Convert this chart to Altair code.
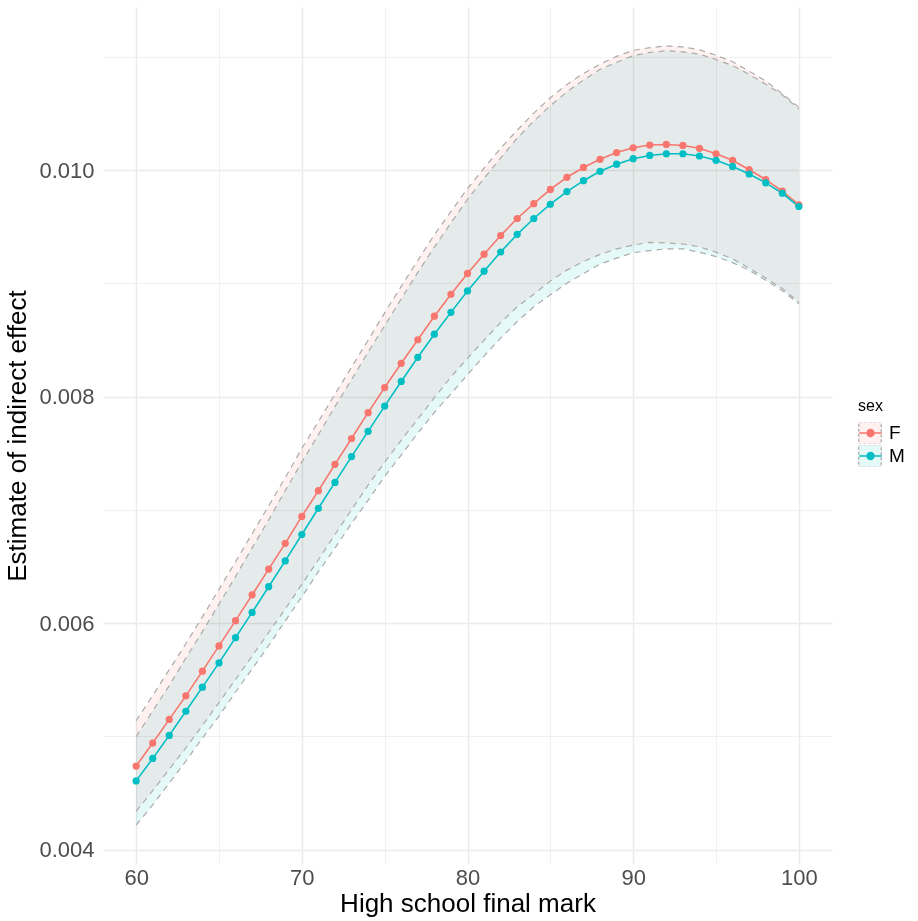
import altair as alt
import pandas as pd

# ---------------- data ----------------
marks = list(range(60, 101))

f_est = [0.004737, 0.004940, 0.005149, 0.005357, 0.005575, 0.005798, 0.006021, 0.006249, 0.006476, 0.006704,
         0.006942, 0.007169, 0.007402, 0.007630, 0.007858, 0.008080, 0.008294, 0.008502, 0.008710, 0.008904,
         0.009088, 0.009258, 0.009423, 0.009573, 0.009704, 0.009830, 0.009937, 0.010024, 0.010096, 0.010155,
         0.010198, 0.010222, 0.010227, 0.010218, 0.010193, 0.010145, 0.010087, 0.010004, 0.009917, 0.009815,
         0.009694]
f_hi = [0.005137, 0.005360, 0.005589, 0.005817, 0.006055, 0.006298, 0.006541, 0.006789, 0.007036, 0.007284,
        0.007542, 0.007779, 0.008022, 0.008260, 0.008498, 0.008740, 0.008974, 0.009202, 0.009430, 0.009634,
        0.009838, 0.010018, 0.010193, 0.010353, 0.010504, 0.010640, 0.010757, 0.010854, 0.010936, 0.011005,
        0.011058, 0.011082, 0.011097, 0.011088, 0.011063, 0.011015, 0.010957, 0.010874, 0.010787, 0.010675,
        0.010554]
f_lo = [0.004337, 0.004520, 0.004709, 0.004897, 0.005095, 0.005298, 0.005501, 0.005709, 0.005916, 0.006124,
        0.006342, 0.006559, 0.006782, 0.007000, 0.007218, 0.007420, 0.007614, 0.007802, 0.007990, 0.008174,
        0.008338, 0.008498, 0.008653, 0.008793, 0.008904, 0.009020, 0.009117, 0.009194, 0.009256, 0.009305,
        0.009338, 0.009362, 0.009357, 0.009348, 0.009323, 0.009275, 0.009217, 0.009134, 0.009047, 0.008955,
        0.008834]

m_est = [0.004606, 0.004804, 0.005008, 0.005221, 0.005434, 0.005648, 0.005871, 0.006094, 0.006321, 0.006549,
         0.006782, 0.007014, 0.007242, 0.007470, 0.007693, 0.007916, 0.008134, 0.008347, 0.008551, 0.008744,
         0.008933, 0.009108, 0.009277, 0.009433, 0.009573, 0.009699, 0.009811, 0.009907, 0.009990, 0.010053,
         0.010101, 0.010130, 0.010145, 0.010145, 0.010125, 0.010087, 0.010033, 0.009966, 0.009888, 0.009796,
         0.009679]
m_hi = [0.004996, 0.005224, 0.005448, 0.005691, 0.005924, 0.006168, 0.006411, 0.006664, 0.006911, 0.007169,
        0.007422, 0.007664, 0.007912, 0.008150, 0.008393, 0.008626, 0.008864, 0.009097, 0.009321, 0.009534,
        0.009743, 0.009928, 0.010107, 0.010283, 0.010433, 0.010569, 0.010691, 0.010797, 0.010890, 0.010953,
        0.011011, 0.011040, 0.011055, 0.011045, 0.011025, 0.010977, 0.010923, 0.010846, 0.010758, 0.010666,
        0.010539]
m_lo = [0.004216, 0.004394, 0.004588, 0.004781, 0.004984, 0.005178, 0.005391, 0.005594, 0.005801, 0.006019,
        0.006232, 0.006454, 0.006662, 0.006880, 0.007083, 0.007296, 0.007484, 0.007677, 0.007861, 0.008024,
        0.008193, 0.008358, 0.008517, 0.008663, 0.008793, 0.008899, 0.009001, 0.009087, 0.009170, 0.009223,
        0.009271, 0.009290, 0.009305, 0.009305, 0.009275, 0.009237, 0.009183, 0.009116, 0.009028, 0.008936,
        0.008819]

sexes = ["F", "M"]
x_ticks = [60, 65, 70, 75, 80, 85, 90, 95, 100]
y_ticks = [0.004, 0.005, 0.006, 0.007, 0.008, 0.009, 0.010, 0.011]

# ---------------- tables ----------------
rows = []
for sex, est, lo, hi in [("F", f_est, f_lo, f_hi), ("M", m_est, m_lo, m_hi)]:
    for x, e, l, h in zip(marks, est, lo, hi):
        rows.append({"mark": x, "sex": sex, "est": e, "lo": l, "hi": h})
df = pd.DataFrame(rows)
bounds = df.melt(id_vars=["mark", "sex"], value_vars=["lo", "hi"],
                 var_name="bound", value_name="val")

FONT = "Liberation Sans"
RED, TEAL = "#F8766D", "#00BFC4"
PALE_RED, PALE_TEAL = "#FEF1F0", "#E6F9F9"

xscale = alt.Scale(domain=[58, 102], nice=False, zero=False)
yscale = alt.Scale(domain=[0.003872, 0.011441], nice=False, zero=False)

LEG_X, LEG_Y = 755, 391
leg_common = dict(orient="none", legendX=LEG_X, legendY=LEG_Y, title="sex",
                  titleFont=FONT, titleFontSize=16, titleFontWeight="normal", titleColor="#000000",
                  titlePadding=8, labelFont=FONT, labelFontSize=19, labelColor="#000000",
                  symbolSize=506, labelOffset=7, rowPadding=1, padding=0, clipHeight=22)

xaxis = alt.Axis(values=x_ticks, title="High school final mark",
                 labelExpr="datum.value % 10 == 0 ? datum.label : ''",
                 gridWidth={"condition": {"test": "datum.value % 10 == 0", "value": 1.4}, "value": 0.7},
                 gridColor="#EBEBEB", ticks=False, domain=False,
                 labelFont=FONT, labelFontSize=22, labelColor="#4D4D4D", labelPadding=3,
                 titleFont=FONT, titleFontSize=26, titleFontWeight="normal", titleColor="#000000",
                 titlePadding=2)
yaxis = alt.Axis(values=y_ticks, title="Estimate of indirect effect",
                 labelExpr="round(datum.value * 1000) % 2 == 0 ? format(datum.value, '.3f') : ''",
                 gridWidth={"condition": {"test": "round(datum.value * 1000) % 2 == 0", "value": 1.4}, "value": 0.7},
                 gridColor="#EBEBEB", ticks=False, domain=False,
                 labelFont=FONT, labelFontSize=22, labelColor="#4D4D4D", labelPadding=9,
                 titleFont=FONT, titleFontSize=26, titleFontWeight="normal", titleColor="#000000",
                 titlePadding=8)

X = alt.X("mark:Q", scale=xscale, axis=xaxis)

ribbon = alt.Chart(df).mark_area(blend="multiply").encode(
    x=X,
    y=alt.Y("lo:Q", scale=yscale, axis=yaxis),
    y2="hi:Q",
    color=alt.Color("sex:N", scale=alt.Scale(domain=sexes, range=[PALE_RED, PALE_TEAL]),
                    legend=alt.Legend(symbolType="square", symbolStrokeColor="#A5A5A5",
                                      symbolDash=[3, 2], symbolStrokeWidth=1.2, **leg_common)),
)

edges = alt.Chart(bounds).mark_line(strokeDash=[6, 5], color="#ABABAB", strokeWidth=1.2).encode(
    x=X,
    y=alt.Y("val:Q", scale=yscale),
    detail=["sex:N", "bound:N"],
)

dot_path = ("M-1,0L1,0"
            "M-0.3,0A0.3,0.3,0,1,1,0.3,0A0.3,0.3,0,1,1,-0.3,0Z")

line_leg = dict(leg_common)
line_leg.update(labelOpacity=0, titleOpacity=0)

lines = alt.Chart(df).mark_line(strokeWidth=1.6).encode(
    x=X,
    y=alt.Y("est:Q", scale=yscale),
    stroke=alt.Stroke("sex:N", scale=alt.Scale(range=[RED, TEAL]),
                      legend=alt.Legend(symbolType=dot_path, symbolStrokeWidth=1.6, **line_leg)),
)

points = alt.Chart(df).mark_point(filled=True, size=52, opacity=1).encode(
    x=X,
    y=alt.Y("est:Q", scale=yscale),
    fill=alt.Fill("sex:N", scale=alt.Scale(range=[RED, TEAL]),
                  legend=alt.Legend(symbolType=dot_path, symbolStrokeWidth=1.6, **line_leg)),
)

chart = alt.layer(ribbon, edges, lines, points).properties(
    width=729, height=857,
    autosize=alt.AutoSizeParams(type="none"),
    padding={"left": 103, "top": 7, "right": 86, "bottom": 57},
    background="white",
).configure_view(stroke=None)

chart.save("out.html", embed_options={"renderer": "svg", "actions": False})
